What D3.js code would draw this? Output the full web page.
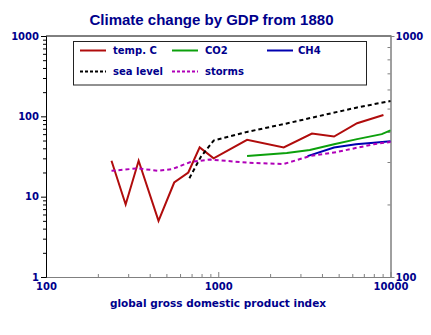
<!DOCTYPE html>
<html>
<head>
<meta charset="utf-8">
<script src="https://cdn.jsdelivr.net/npm/d3@7"></script>
<style>
  body { margin: 0; background: #fff; }
  svg { display: block; }
</style>
</head>
<body>
<div id="chart"></div>
<script>
// values (x = GDP index, y = log scale)
const tempGdp = [240, 290, 345, 450, 555, 670, 780, 940, 1470, 2400, 3500, 4700, 6400, 9100];
const tempValues = [28, 8, 28, 5, 15, 20, 41, 30, 51, 41, 61, 56, 82, 104];

const co2Gdp = [1470, 2500, 3400, 4700, 6400, 8900, 10000];
const co2Values = [32, 35, 38, 45, 52, 60, 67];

const ch4Gdp = [3300, 4700, 6300, 8000, 10000];
const ch4Values = [32, 41, 45, 47, 49];

const seaGdp = [680, 790, 940, 1470, 2400, 4100, 6400, 10000];
const seaValues = [17, 31, 50, 64, 80, 104, 129, 155];

const stormGdp = [240, 340, 450, 540, 690, 900, 1470, 2400, 3400, 4900, 8000, 10000];
const stormValues = [21, 22.5, 21, 22, 27, 29, 26.5, 25.5, 32, 36, 45, 48];

const seriesNames = ['temp. C', 'CO2', 'CH4', 'sea level', 'storms'];
const seriesColors = ['#b00c0c', '#0ca00c', '#0000b0', '#000000', '#b000b8'];
const seriesDashed = [false, false, false, true, true];

const xTicks = [100, 1000, 10000];
const yTicks = [1, 10, 100, 1000];
const yRightTicks = [100, 1000];

const title = 'Climate change by GDP from 1880';
const xTitle = 'global gross domestic product index';

const minorTicks = domain => {
  const out = [];
  for (let d = domain[0]; d < domain[1]; d *= 10) {
    for (let k = 2; k <= 9; k += 1) out.push(d * k);
  }
  return out;
};

const series = [
  [tempGdp, tempValues],
  [co2Gdp, co2Values],
  [ch4Gdp, ch4Values],
  [seaGdp, seaValues],
  [stormGdp, stormValues],
].map(([xs, ys], i) => ({
  name: seriesNames[i],
  color: seriesColors[i],
  dashed: seriesDashed[i],
  points: xs.map((x, j) => ({ x, y: ys[j] })),
}));

const width = 431;
const height = 335;
const margin = { top: 36, right: 40.5, bottom: 58, left: 46 };
const textColor = '#00008c';
const grey = '#808080';

const svg = d3.select('#chart')
  .append('svg')
  .attr('width', width)
  .attr('height', height)
  .style('font-family', '"DejaVu Sans", sans-serif')
  .style('font-weight', 'bold');

const x = d3.scaleLog()
  .domain([100, 10000])
  .range([margin.left, width - margin.right]);

const y = d3.scaleLog()
  .domain([1, 1000])
  .range([height - margin.bottom, margin.top]);

const yRight = d3.scaleLog()
  .domain([100, 1000])
  .range([height - margin.bottom, margin.top]);

const styleAxis = (g, color) => {
  g.select('.domain').attr('stroke', color);
  g.selectAll('.tick line').attr('stroke', color);
  g.selectAll('.tick text')
    .attr('fill', textColor)
    .style('font-size', '10px')
    .style('font-family', '"DejaVu Sans", sans-serif')
    .style('font-weight', 'bold');
};

// title
svg.append('text')
  .attr('x', 211.5)
  .attr('y', 25)
  .attr('text-anchor', 'middle')
  .attr('fill', textColor)
  .style('font-family', '"Liberation Sans", Arial, sans-serif')
  .style('font-size', '15px')
  .text(title);

// top frame line
svg.append('line')
  .attr('x1', margin.left)
  .attr('x2', width - margin.right + 1)
  .attr('y1', margin.top)
  .attr('y2', margin.top)
  .attr('stroke', '#000');

// bottom axis (ticks point inward)
const xAxisG = svg.append('g')
  .attr('transform', `translate(0,${height - margin.bottom})`);

xAxisG.append('g')
  .call(d3.axisBottom(x).tickValues(minorTicks(x.domain())).tickSize(-3).tickSizeOuter(0).tickFormat(''))
  .call(g => styleAxis(g, grey));

xAxisG.append('g')
  .call(d3.axisBottom(x).tickValues(xTicks).tickSize(-5).tickSizeOuter(0).tickPadding(6).tickFormat(d3.format('d')))
  .call(g => styleAxis(g, grey));

// left axis (ticks point outward)
const yAxisG = svg.append('g')
  .attr('transform', `translate(${margin.left},0)`);

yAxisG.append('g')
  .call(d3.axisLeft(y).tickValues(minorTicks(y.domain())).tickSize(3).tickSizeOuter(0).tickFormat(''))
  .call(g => styleAxis(g, '#000'));

yAxisG.append('g')
  .call(d3.axisLeft(y).tickValues(yTicks).tickSize(5).tickSizeOuter(0).tickPadding(2).tickFormat(d3.format('d')))
  .call(g => styleAxis(g, '#000'));

// right axis
const yRightG = svg.append('g')
  .attr('transform', `translate(${width - margin.right},0)`);

yRightG.append('g')
  .call(d3.axisRight(yRight).tickValues(minorTicks(yRight.domain())).tickSize(-3).tickSizeOuter(0).tickFormat(''))
  .call(g => styleAxis(g, grey));

yRightG.append('g')
  .call(d3.axisRight(yRight).tickValues(yRightTicks).tickSize(4).tickSizeOuter(0).tickPadding(1).tickFormat(d3.format('d')))
  .call(g => styleAxis(g, grey));

yRightG.selectAll('.tick line').filter(d => yRightTicks.includes(d))
  .attr('x1', -3);

// x axis title
svg.append('text')
  .attr('x', 218)
  .attr('y', 306.5)
  .attr('text-anchor', 'middle')
  .attr('fill', textColor)
  .style('font-size', '10.5px')
  .text(xTitle);

// data lines
const line = d3.line()
  .x(d => x(d.x))
  .y(d => y(d.y));

svg.append('g')
  .selectAll('path')
  .data(series)
  .join('path')
  .attr('d', d => line(d.points))
  .attr('fill', 'none')
  .attr('stroke', d => d.color)
  .attr('stroke-width', 2)
  .attr('stroke-dasharray', d => (d.dashed ? '4,3' : null));

// legend
const legend = svg.append('g');

legend.append('rect')
  .attr('x', 73.5)
  .attr('y', 41.5)
  .attr('width', 293)
  .attr('height', 43.5)
  .attr('fill', '#fff')
  .attr('stroke', '#222')
  .attr('stroke-width', 1);

const legendCols = [80, 172, 267];
const legendRows = [50.5, 71.5];

const items = legend.selectAll('g.item')
  .data(series)
  .join('g')
  .attr('class', 'item')
  .attr('transform', (d, i) => `translate(${legendCols[i % 3]},${legendRows[Math.floor(i / 3)]})`);

items.append('line')
  .attr('x1', 0)
  .attr('x2', 26)
  .attr('stroke', d => d.color)
  .attr('stroke-width', 2)
  .attr('stroke-dasharray', d => (d.dashed ? '3,2' : null));

items.append('text')
  .attr('x', (d, i) => (i % 3 === 2 ? 31 : 33))
  .attr('dy', '0.36em')
  .attr('fill', textColor)
  .style('font-size', '10px')
  .text(d => d.name);
</script>
</body>
</html>
